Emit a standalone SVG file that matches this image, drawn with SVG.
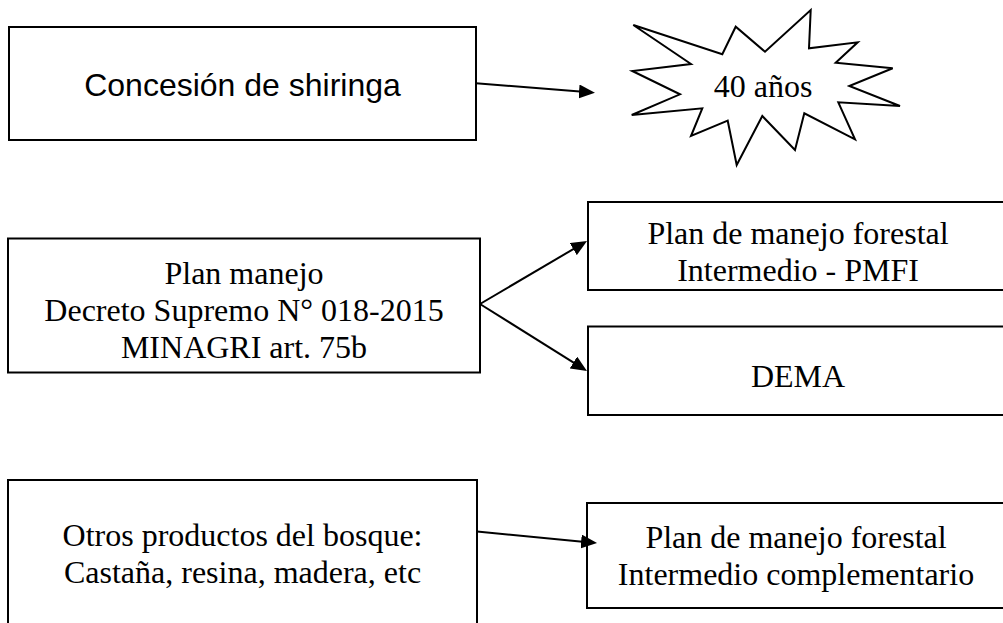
<svg xmlns="http://www.w3.org/2000/svg" width="1003" height="623" viewBox="0 0 1003 623">
  <style>
    .box { fill: #ffffff; stroke: #000000; stroke-width: 2; }
    .star { fill: #ffffff; stroke: #000000; stroke-width: 2; stroke-linejoin: miter; }
    .conn { stroke: #000000; stroke-width: 2; fill: none; }
    .sans { font-family: "Liberation Sans", Arial, sans-serif; font-size: 32px; fill: #000000; text-anchor: middle; }
    .serif { font-family: "Liberation Serif", "Times New Roman", serif; font-size: 32px; fill: #000000; text-anchor: middle; }
  </style>
  <defs>
    <marker id="arrow" markerUnits="userSpaceOnUse" markerWidth="16" markerHeight="14" refX="4" refY="7" orient="auto">
      <path d="M0,0 L16,7 L0,14 Z" fill="#000000"/>
    </marker>
  </defs>
  <rect width="1003" height="623" fill="#ffffff"/>

  <g id="concesion">
    <rect class="box" x="9" y="27" width="467" height="113"/>
    <text class="sans" x="242.5" y="96">Concesión de shiringa</text>
  </g>

  <g id="cuarenta-anos">
    <polygon class="star" points="633.3,25 722.3,54.3 735.7,26.7 765,51.7 810.7,10 809,48.3 857.7,42.3 835.7,62.7 892.7,68.3 849.3,86 900,106 838.3,102.3 855,139.3 804.3,113.3 795,150 762.3,116 736.7,165 727.7,120.7 691,136 702.3,108.3 631.7,115 680,94.3 632.3,71 691,64"/>
    <text class="serif" x="763" y="97">40 años</text>
  </g>

  <g id="plan-manejo">
    <rect class="box" x="8" y="238.5" width="472" height="134"/>
    <text class="serif" x="244" y="284">Plan manejo</text>
    <text class="serif" x="244" y="321">Decreto Supremo N° 018-2015</text>
    <text class="serif" x="244" y="358">MINAGRI art. 75b</text>
  </g>

  <g id="pmfi">
    <rect class="box" x="588" y="202" width="430" height="88"/>
    <text class="serif" x="798" y="244">Plan de manejo forestal</text>
    <text class="serif" x="798" y="281">Intermedio - PMFI</text>
  </g>

  <g id="dema">
    <rect class="box" x="588" y="326.5" width="430" height="88.5"/>
    <text class="serif" x="798" y="387">DEMA</text>
  </g>

  <g id="otros-productos">
    <rect class="box" x="8" y="480" width="469" height="160"/>
    <text class="serif" x="242.5" y="546">Otros productos del bosque:</text>
    <text class="serif" x="242.5" y="583">Castaña, resina, madera, etc</text>
  </g>

  <g id="pmf-complementario">
    <rect class="box" x="587" y="503" width="430" height="105"/>
    <text class="serif" x="796" y="548">Plan de manejo forestal</text>
    <text class="serif" x="796" y="585">Intermedio complementario</text>
  </g>

  <g id="connectors">
    <line class="conn" x1="476" y1="83.3" x2="583" y2="91.8" marker-end="url(#arrow)"/>
    <line class="conn" x1="480" y1="304" x2="576.7" y2="247.1" marker-end="url(#arrow)"/>
    <line class="conn" x1="480" y1="304" x2="576.8" y2="364.6" marker-end="url(#arrow)"/>
    <line class="conn" x1="477" y1="531.5" x2="585.1" y2="541.9" marker-end="url(#arrow)"/>
  </g>
</svg>
